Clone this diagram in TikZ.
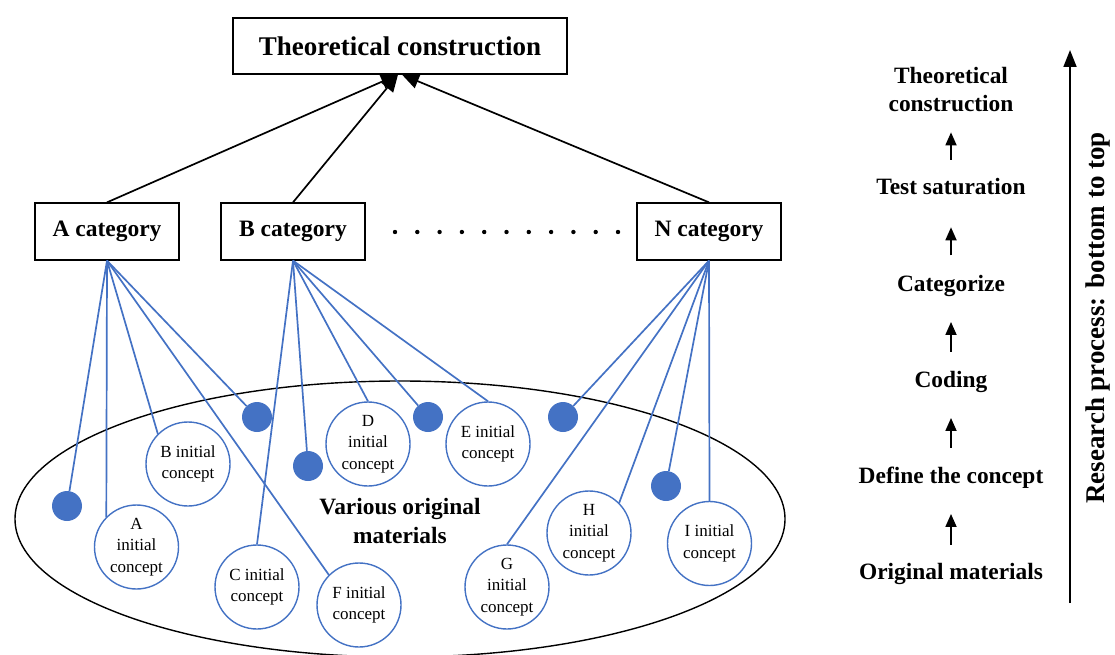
\documentclass[tikz,border=0pt]{standalone}
\usepackage{fontspec}
\setmainfont{Liberation Serif}
\usetikzlibrary{arrows.meta,calc}
\definecolor{oblue}{HTML}{4472C4}
\begin{document}
\begin{tikzpicture}[x=1pt,y=-1pt,
  catbox/.style={draw,line width=1.25pt,minimum width=144pt,minimum height=57pt,inner sep=0pt,font=\fontsize{23.5}{28}\selectfont\bfseries},
  topbox/.style={draw,line width=1.25pt,minimum width=334pt,minimum height=56pt,inner sep=0pt,font=\fontsize{27}{32}\selectfont\bfseries},
  concept/.style={circle,draw=oblue,line width=1.4pt,fill=white,minimum size=84pt,inner sep=0pt,align=center,font=\fontsize{17}{21.5}\selectfont},
  bdot/.style={circle,fill=oblue,minimum size=30pt,inner sep=0pt},
  link/.style={draw=oblue,line width=1.7pt},
  uparrow/.style={line width=1.7pt,-{Triangle[length=17pt,width=15pt]}},
  steplabel/.style={font=\fontsize{23.4}{28}\selectfont\bfseries,inner sep=0pt,text height=16pt,text depth=5pt,align=center},
  smallarrow/.style={line width=1.7pt,-{Triangle[length=13pt,width=11pt]}},
]
\useasboundingbox (0,0) rectangle (1115,655);

% ellipse of materials
\draw[line width=1.4pt] (400,519) ellipse [x radius=385, y radius=138];
\node[font=\fontsize{23.4}{29}\selectfont\bfseries,align=center] (mat) at (400,521) {Various original\\materials};

% boxes
\node[topbox] (top) at (400,46) {Theoretical construction};
\node[catbox] (Acat) at (107,231.5) {A category};
\node[catbox] (Bcat) at (293,231.5) {B category};
\node[catbox] (Ncat) at (709,231.5) {N category};

\foreach \i in {0,...,10} \fill (395+22.3*\i,232) circle (2.2pt);

% arrows to top
\draw[uparrow] (Acat.north) -- ([xshift=-2pt]top.south);
\draw[uparrow] (Bcat.north) -- ([xshift=-2pt]top.south);
\draw[uparrow] (Ncat.north) -- ([xshift=2pt]top.south);

% concepts and dots
\node[concept] (cA) at (136.5,547) {A\\initial\\concept};
\node[concept] (cB) at (188,464) {B initial\\concept};
\node[concept] (cC) at (257,587) {C initial\\concept};
\node[concept] (cD) at (368,444) {D\\initial\\concept};
\node[concept] (cE) at (488,444) {E initial\\concept};
\node[concept] (cF) at (359,605) {F initial\\concept};
\node[concept] (cG) at (507,587) {G\\initial\\concept};
\node[concept] (cH) at (589,533) {H\\initial\\concept};
\node[concept] (cI) at (709.5,543.5) {I initial\\concept};

\node[bdot] (d1) at (67,506) {};
\node[bdot] (d2) at (257,417) {};
\node[bdot] (d3) at (308,466) {};
\node[bdot] (d4) at (428,417) {};
\node[bdot] (d5) at (563,417) {};
\node[bdot] (d6) at (666,486) {};

% links
\path[link] (Acat.south) -- (d1);
\path[link] (Acat.south) -- (cA.135);
\path[link] (Acat.south) -- (cB.135);
\path[link] (Acat.south) -- (d2);
\path[link] (Acat.south) -- (cF.135);

\path[link] (Bcat.south) -- (cC.north);
\path[link] (Bcat.south) -- (d3);
\path[link] (Bcat.south) -- (cD.north);
\path[link] (Bcat.south) -- (d4);
\path[link] (Bcat.south) -- (cE.north);

\path[link] (Ncat.south) -- (d5);
\path[link] (Ncat.south) -- (cG.north);
\path[link] (Ncat.south) -- (cH.45);
\path[link] (Ncat.south) -- (d6);
\path[link] (Ncat.south) -- (cI.north);

% right side process
\node[steplabel] (r1) at (951,573.5) {Original materials};
\node[steplabel] (r2) at (951,477.5) {Define the concept};
\node[steplabel] (r3) at (951,381.5) {Coding};
\node[steplabel] (r4) at (951,285.5) {Categorize};
\node[steplabel] (r5) at (951,188.5) {Test saturation};
\node[font=\fontsize{23.4}{28}\selectfont\bfseries,align=center,inner sep=0pt] (r6) at (951,90) {Theoretical\\construction};

\draw[smallarrow] ($(r1)!0.3!(r2)$) -- ($(r1)!0.62!(r2)$);
\draw[smallarrow] ($(r2)!0.31!(r3)$) -- ($(r2)!0.62!(r3)$);
\draw[smallarrow] ($(r3)!0.31!(r4)$) -- ($(r3)!0.62!(r4)$);
\draw[smallarrow] ($(r4)!0.31!(r5)$) -- ($(r4)!0.6!(r5)$);
\draw[smallarrow] ($(r5)!0.29!(r6)$) -- ($(r5)!0.57!(r6)$);

\coordinate (bigS) at (1070,603);
\coordinate (bigE) at (1070,50);
\draw[line width=1.7pt,-{Triangle[length=17pt,width=13pt]}] (bigS) -- (bigE);
\node[rotate=90,font=\fontsize{27}{32}\selectfont\bfseries,inner sep=0pt] (proc) at (1098,318) {Research process: bottom to top};
\end{tikzpicture}
\end{document}
